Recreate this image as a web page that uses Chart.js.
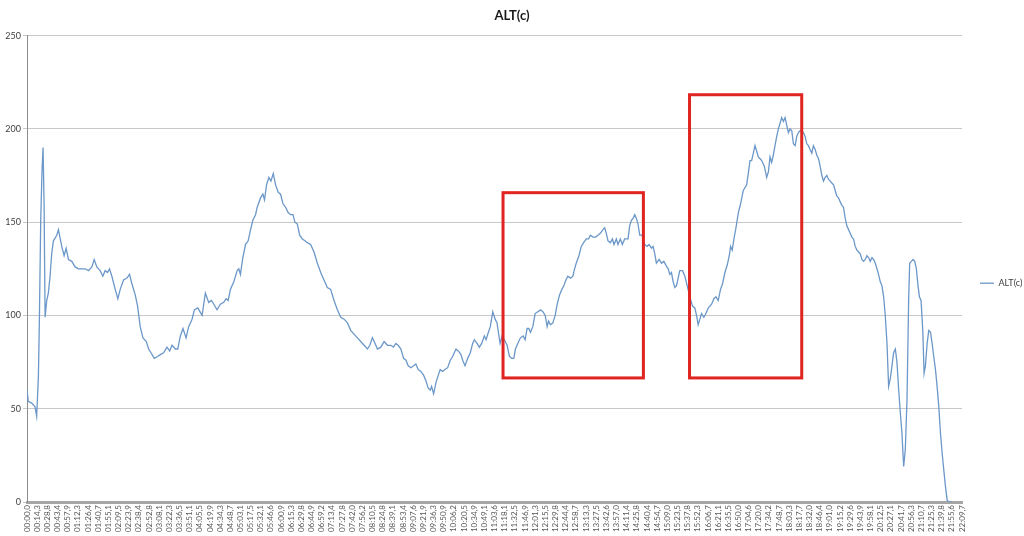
<!DOCTYPE html>
<html>
<head>
<meta charset="utf-8">
<title>ALT(c)</title>
<script src="https://cdn.jsdelivr.net/npm/chart.js@4.4.1/dist/chart.umd.min.js"></script>
<style>
  html, body { margin: 0; padding: 0; background: #ffffff; }
  canvas { display: block; }
</style>
</head>
<body>
<canvas id="altChart" width="1024" height="536"></canvas>
<script>
// Tick labels on the time axis (one every category step)
const timeLabels = [
  "00:00,0", "00:14,3", "00:28,8", "00:43,4", "00:57,9", "01:12,3", "01:26,4", "01:40,7", "01:55,1", "02:09,5",
  "02:23,9", "02:38,4", "02:52,8", "03:08,1", "03:22,3", "03:36,5", "03:51,1", "04:05,5", "04:19,9", "04:34,3",
  "04:48,7", "05:03,1", "05:17,5", "05:32,1", "05:46,6", "06:00,9", "06:15,3", "06:29,8", "06:44,9", "06:59,2",
  "07:13,4", "07:27,8", "07:42,0", "07:56,2", "08:10,5", "08:24,8", "08:39,1", "08:53,4", "09:07,6", "09:21,9",
  "09:36,3", "09:50,9", "10:06,2", "10:20,5", "10:34,9", "10:49,1", "11:03,6", "11:18,1", "11:32,5", "11:46,9",
  "12:01,3", "12:15,5", "12:29,8", "12:44,4", "12:58,7", "13:13,3", "13:27,5", "13:42,6", "13:57,0", "14:11,4",
  "14:25,8", "14:40,4", "14:54,7", "15:09,0", "15:23,5", "15:37,8", "15:52,3", "16:06,7", "16:21,1", "16:35,5",
  "16:50,0", "17:04,6", "17:20,0", "17:34,2", "17:48,7", "18:03,3", "18:17,7", "18:32,0", "18:46,4", "19:01,0",
  "19:15,2", "19:29,6", "19:43,9", "19:58,1", "20:12,5", "20:27,1", "20:41,7", "20:56,3", "21:10,7", "21:25,3",
  "21:39,8", "21:55,6", "22:09,7"
];

const yTicks = [0, 50, 100, 150, 200, 250];

// Sample positions, in units of the tick labels above (0 = "00:00,0")
const altTime = [
  0, 0.13, 0.46, 0.79, 0.95, 1.12, 1.22, 1.35, 1.48, 1.58, 1.68, 1.78, 1.94, 2.10, 2.27, 2.43, 2.60, 2.93, 3.09, 3.42,
  3.65, 3.85, 4.08, 4.41, 4.73, 5.06, 5.39, 5.72, 6.05, 6.38, 6.61, 6.87, 7.20, 7.46, 7.69, 7.92, 8.12, 8.35, 8.68, 8.94,
  9.17, 9.50, 9.83, 10.09, 10.32, 10.65, 10.88, 11.14, 11.41, 11.74, 11.97, 12.20, 12.52, 12.85, 13.12, 13.44, 13.77, 14.04, 14.27, 14.60,
  14.83, 15.09, 15.35, 15.65, 15.91, 16.24, 16.47, 16.80, 17.23, 17.55,
  17.88, 18.15, 18.38, 18.70, 19.03, 19.36, 19.59, 19.79, 20.02, 20.35, 20.68, 20.84, 21.00, 21.24, 21.50, 21.76, 22.00, 22.22, 22.49, 22.65,
  22.98, 23.21, 23.37, 23.57, 23.80, 24.00, 24.23, 24.46, 24.72, 24.95, 25.18, 25.44, 25.71, 25.94, 26.17, 26.36, 26.60, 26.83, 27.09, 27.35,
  27.58, 27.91, 28.24, 28.57, 28.90, 29.22, 29.55, 29.88, 30.21, 30.54, 30.87, 31.20, 31.53, 31.85, 32.18, 32.51, 32.84, 33.17, 33.50, 33.73,
  33.99, 34.25, 34.48, 34.81, 35.14, 35.47,
  35.80, 36.06, 36.29, 36.52, 36.79, 37.05, 37.29, 37.51, 37.77, 38.04, 38.26, 38.49, 38.76, 39.02, 39.25, 39.48, 39.68, 39.81, 40.01, 40.24,
  40.47, 40.66, 40.89, 41.12, 41.39, 41.65, 41.88, 42.21, 42.44, 42.70, 42.87, 43.10, 43.36, 43.62, 43.85, 44.02, 44.28, 44.51, 44.74, 45.00,
  45.17, 45.40, 45.59, 45.83, 46.06, 46.25, 46.38, 46.55, 46.75, 46.97, 47.24, 47.47, 47.70, 47.90, 48.06, 48.29, 48.55, 48.82, 49.01, 49.21,
  49.38, 49.54, 49.77, 50.00, 50.26, 50.53, 50.76, 50.99, 51.18, 51.32, 51.51, 51.74, 51.97, 52.17, 52.40, 52.63, 52.83, 53.02, 53.22, 53.49,
  53.71, 53.88,
  54.04, 54.31, 54.54, 54.77, 55.03, 55.26, 55.43, 55.69, 55.95, 56.18, 56.41, 56.67, 56.84, 57.00, 57.17, 57.40, 57.60, 57.76, 57.99, 58.15,
  58.38, 58.58, 58.81, 58.97, 59.14, 59.30, 59.47, 59.63, 59.80, 59.96, 60.12, 60.29, 60.52, 60.78, 61.01, 61.21, 61.44, 61.60, 61.77, 61.93,
  62.20, 62.43, 62.66, 62.86, 63.09, 63.25, 63.41, 63.58, 63.74, 63.91, 64.07, 64.23, 64.50, 64.73, 64.96, 65.22, 65.48, 65.71, 65.88, 66.04,
  66.21, 66.37, 66.60, 66.80, 67.03, 67.19, 67.36, 67.59, 67.79, 68.01, 68.24, 68.44, 68.67, 68.90, 69.10, 69.23, 69.39, 69.56, 69.76, 69.99,
  70.22, 70.48, 70.81, 70.97, 71.14, 71.30, 71.47, 71.63, 71.80, 71.96, 72.13,
  72.29, 72.55, 72.78, 72.95, 73.11, 73.27, 73.44, 73.60, 73.77, 73.93, 74.10, 74.26, 74.43, 74.59, 74.75, 74.92, 75.08, 75.25, 75.41, 75.58,
  75.74, 75.90, 76.07, 76.23, 76.40, 76.56, 76.73, 76.89, 77.05, 77.22, 77.38, 77.55, 77.71, 77.88, 78.04, 78.21, 78.37, 78.53, 78.70, 78.86,
  79.03, 79.19, 79.36, 79.52, 79.68, 79.85, 80.01, 80.18, 80.34, 80.51, 80.67, 80.84, 81.00, 81.16, 81.33, 81.49, 81.66, 81.82, 81.99, 82.15,
  82.31, 82.48, 82.64, 82.81, 82.97, 83.14, 83.30, 83.47, 83.63, 83.79, 83.96, 84.12, 84.29, 84.45, 84.62, 84.78, 84.94, 85.11, 85.27, 85.44,
  85.60, 85.77, 85.93, 86.09, 86.26, 86.42, 86.59, 86.75, 86.85, 87.02, 87.18, 87.35, 87.51, 87.67, 87.81, 87.97, 88.14, 88.27, 88.40, 88.57,
  88.73, 88.90, 89.06, 89.22, 89.39, 89.55, 89.72, 89.88, 90.05, 90.21, 90.38, 90.54, 90.70, 91.00
];

// ALT(c) values, one per position above
const altValue = [
  60, 54, 53, 51, 46, 67, 98, 151, 178, 190, 160, 99, 108, 112, 121, 133, 140, 143, 146, 137,
  132, 136, 130, 129, 126, 125, 125, 125, 124, 126, 130, 126, 124, 121, 124, 123, 125, 121, 114, 109,
  114, 119, 120, 122, 117, 111, 105, 94, 88, 86, 82, 80, 77, 78, 79, 80, 83, 81, 84, 82,
  82, 89, 93, 88, 94, 98, 103, 104, 100, 112,
  107, 108, 106, 103, 106, 107, 109, 108, 114, 118, 124, 125, 122, 131, 138, 140, 146, 151, 154, 158,
  163, 165, 162, 170, 174, 172, 176, 170, 166, 165, 160, 158, 155, 154, 154, 150, 149, 143, 141, 140,
  139, 138, 134, 128, 123, 119, 115, 114, 108, 103, 99, 98, 96, 92, 90, 88, 86, 84, 82, 84,
  88, 85, 82, 83, 86, 84,
  84, 83, 85, 84, 82, 77, 76, 73, 72, 73, 74, 71, 70, 68, 65, 61, 60, 62, 58, 64,
  68, 71, 70, 71, 72, 76, 78, 82, 81, 79, 76, 73, 77, 80, 85, 87, 85, 83, 85, 89,
  87, 91, 94, 102, 98, 96, 91, 85, 89, 87, 84, 78, 77, 77, 82, 85, 88, 89, 87, 93,
  93, 91, 94, 101, 102, 103, 102, 100, 94, 97, 95, 96, 100, 106, 111, 114, 116, 119, 121, 120,
  121, 125,
  128, 132, 137, 139, 141, 141, 143, 142, 142, 143, 144, 146, 147, 144, 140, 139, 141, 138, 141, 138,
  141, 138, 141, 141, 141, 148, 151, 152, 154, 152, 149, 143, 143, 138, 137, 138, 136, 137, 133, 128,
  130, 128, 129, 127, 125, 122, 123, 118, 115, 116, 120, 124, 124, 121, 116, 110, 105, 104, 100, 95,
  98, 101, 99, 101, 104, 105, 106, 109, 110, 108, 114, 117, 123, 127, 132, 137, 135, 141, 147, 155,
  160, 167, 170, 176, 183, 183, 187, 191, 188, 185, 184,
  183, 180, 174, 177, 185, 182, 186, 191, 196, 200, 203, 206, 204, 206, 202, 198, 200, 199, 192, 191,
  196, 198, 199, 199, 198, 196, 192, 191, 189, 187, 191, 189, 186, 184, 180, 175, 172, 174, 175, 173,
  172, 171, 170, 167, 164, 163, 161, 159, 158, 152, 148, 146, 144, 142, 141, 137, 135, 134, 133, 130,
  129, 130, 132, 131, 129, 131, 130, 128, 125, 122, 118, 116, 110, 100, 85, 62, 66, 73, 80, 82,
  75, 60, 48, 37, 19, 28, 55, 108, 128, 129, 130, 129, 125, 116, 110, 108, 92, 69, 73, 85,
  92, 91, 85, 78, 71, 62, 51, 37, 26, 17, 8, 1, 0, 0
];

// Red highlight frames drawn over the picture, in axis units
const highlightBoxes = [
  { from: 46.84, to: 60.65, low: 66.5, high: 165.8 },
  { from: 65.19, to: 76.23, low: 66.5, high: 218.3 }
];

const lineColor = "#6b97c9";

const boxPlugin = {
  id: "highlightBoxes",
  afterDatasetsDraw(chart) {
    const { ctx, scales: { x, y } } = chart;
    ctx.save();
    ctx.strokeStyle = "#e0241f";
    ctx.lineWidth = 3;
    highlightBoxes.forEach((b) => {
      const left = x.getPixelForValue(b.from);
      const right = x.getPixelForValue(b.to);
      const top = y.getPixelForValue(b.high);
      const bottom = y.getPixelForValue(b.low);
      ctx.strokeRect(left, top, right - left, bottom - top);
    });
    ctx.restore();
  },
};

const points = altTime.map((t, i) => ({ x: t, y: altValue[i] }));

new Chart(document.getElementById("altChart"), {
  type: "line",
  data: {
    datasets: [
      {
        label: "ALT(c)",
        data: points,
        borderColor: lineColor,
        backgroundColor: lineColor,
        borderWidth: 1.3,
        pointRadius: 0,
        tension: 0,
        fill: false,
      },
    ],
  },
  options: {
    responsive: false,
    animation: false,
    font: { family: "Lato, 'Liberation Sans', sans-serif" },
    layout: { padding: { left: 0, right: 0, top: 0, bottom: 0 } },
    plugins: {
      title: {
        display: true,
        text: "ALT(c)",
        color: "#1a1a1a",
        font: { size: 13, weight: "bold", family: "Lato, 'Liberation Sans', sans-serif" },
        padding: { top: 8, bottom: 12 },
      },
      legend: {
        position: "right",
        maxWidth: 62,
        // empty title only nudges the single entry a little lower
        title: { display: true, text: "", padding: 14, font: { size: 2 } },
        labels: {
          usePointStyle: true,
          pointStyle: "line",
          pointStyleWidth: 14,
          padding: 18,
          color: "#404040",
          font: { size: 9, family: "Lato, 'Liberation Sans', sans-serif" },
        },
      },
      tooltip: { enabled: false },
    },
    scales: {
      x: {
        type: "linear",
        min: 0,
        max: timeLabels.length - 1,
        afterFit: (scale) => { scale.height = 34; },
        grid: { drawOnChartArea: false, drawTicks: false },
        border: { color: "#a6a6a6", width: 3 },
        ticks: {
          stepSize: 1,
          autoSkip: false,
          minRotation: 90,
          maxRotation: 90,
          padding: 3,
          color: "#595959",
          font: { size: 8, family: "Lato, 'Liberation Sans', sans-serif" },
          callback: (value) => timeLabels[value] || "",
        },
      },
      y: {
        min: yTicks[0],
        max: yTicks[yTicks.length - 1],
        afterFit: (scale) => { scale.width = 27; },
        grid: { color: "#c8c8c8", lineWidth: 1, tickLength: 4 },
        border: { color: "#8c8c8c", width: 1 },
        ticks: {
          stepSize: 50,
          padding: 2,
          color: "#404040",
          font: { size: 9, family: "Lato, 'Liberation Sans', sans-serif" },
        },
      },
    },
  },
  plugins: [boxPlugin],
});
</script>
</body>
</html>
